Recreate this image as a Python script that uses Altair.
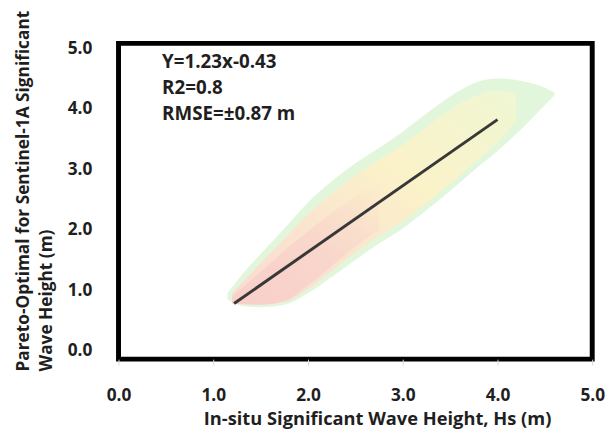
import altair as alt
import pandas as pd

# ---- data ----
# outer envelope of the point cloud
cloud_x = [1.15, 1.3, 1.5, 1.75, 2.0, 2.25, 2.5, 2.75, 3.0, 3.25, 3.5, 3.75, 4.0, 4.25, 4.45, 4.6]
cloud_upper = [0.95, 1.25, 1.6, 2.02, 2.45, 2.8, 3.1, 3.35, 3.62, 3.92, 4.2, 4.42, 4.5, 4.46, 4.38, 4.27]
cloud_lower = [0.85, 0.74, 0.72, 0.76, 0.95, 1.22, 1.5, 1.77, 2.02, 2.32, 2.64, 2.98, 3.3, 3.66, 3.98, 4.22]

# denser core of the cloud
core_x = [1.2, 1.5, 1.75, 2.0, 2.25, 2.5, 2.75, 3.0, 3.25, 3.5, 3.75, 4.0, 4.2]
core_upper = [0.95, 1.45, 1.85, 2.25, 2.6, 2.9, 3.15, 3.4, 3.7, 3.98, 4.2, 4.3, 4.25]
core_lower = [0.78, 0.76, 0.8, 1.02, 1.32, 1.62, 1.9, 2.14, 2.44, 2.76, 3.1, 3.45, 3.8]

# densest part (pink)
dense_x = [1.2, 1.5, 1.75, 2.0, 2.25, 2.5, 2.75]
dense_upper = [0.9, 1.3, 1.65, 1.97, 2.28, 2.55, 2.8]
dense_lower = [0.78, 0.76, 0.82, 1.08, 1.4, 1.72, 2.0]

# fitted line end points
fit_x = [1.22, 4.0]
fit_y = [0.78, 3.82]

stats_text = ["Y=1.23x-0.43", "R2=0.8", "RMSE=\u00b10.87 m"]

x_ticks = [0.0, 1.0, 2.0, 3.0, 4.0, 5.0]
y_ticks = [0.0, 1.0, 2.0, 3.0, 4.0, 5.0]

x_title = "In-situ Significant Wave Height, Hs (m)"
y_title = ["Pareto-Optimal for Sentinel-1A Significant", "Wave Height (m)"]

FONT = "Open Sans"
FW = "bold"
TXT = "#1f1f1f"

xscale = alt.Scale(domain=[0, 5], nice=False, zero=False)
yscale = alt.Scale(domain=[-0.14, 5.08], nice=False, zero=False)

xaxis = alt.Axis(values=x_ticks, format=".1f", grid=False, domain=False,
                 ticks=True, tickSize=6, tickColor="#d9d9d9", tickWidth=1,
                 labelFlush=False, labelOverlap=False,
                 labelPadding=22, labelFont=FONT, labelFontSize=17.5,
                 labelFontWeight=FW, labelColor=TXT,
                 titleFont=FONT, titleFontSize=18.5, titleFontWeight=FW,
                 titleColor=TXT, titlePadding=6, titleX=262)
yaxis = alt.Axis(values=y_ticks, format=".1f", grid=False, domain=False,
                 ticks=False, labelFlush=False, labelOverlap=False,
                 labelPadding=27, labelFont=FONT, labelFontSize=17.5,
                 labelFontWeight=FW, labelColor=TXT,
                 titleFont=FONT, titleFontSize=17.5, titleFontWeight=FW,
                 titleColor=TXT, titleAngle=270, titleAlign="left",
                 titleBaseline="alphabetic", titleLineHeight=23,
                 titleX=-91, titleY=332)

def X():
    return alt.X("x:Q", scale=xscale, axis=xaxis, title=x_title)

def Y(field):
    return alt.Y(field, scale=yscale, axis=yaxis, title=y_title)

outer_df = pd.DataFrame({"x": cloud_x, "hi": cloud_upper, "lo": cloud_lower})
core_df = pd.DataFrame({"x": core_x, "hi": core_upper, "lo": core_lower})
dense_df = pd.DataFrame({"x": dense_x, "hi": dense_upper, "lo": dense_lower})
fit_df = pd.DataFrame({"x": fit_x, "y": fit_y})

outer = alt.Chart(outer_df).mark_area(color="#e2f6dc", interpolate="monotone").encode(
    x=X(), y=Y("hi:Q"), y2="lo:Q")

core_grad = alt.LinearGradient(
    gradient="linear",
    stops=[alt.GradientStop(color="#f9dcd4", offset=0),
           alt.GradientStop(color="#fae4cf", offset=0.3),
           alt.GradientStop(color="#fbf2c9", offset=0.6),
           alt.GradientStop(color="#eff7d3", offset=1)],
    x1=0, x2=1, y1=1, y2=0)

core = alt.Chart(core_df).mark_area(color=core_grad, interpolate="monotone").encode(
    x=X(), y=Y("hi:Q"), y2="lo:Q")

dense_grad = alt.LinearGradient(
    gradient="linear",
    stops=[alt.GradientStop(color="rgba(248,205,200,0.85)", offset=0),
           alt.GradientStop(color="rgba(248,205,200,0.6)", offset=0.5),
           alt.GradientStop(color="rgba(248,205,200,0)", offset=1)],
    x1=0, x2=1, y1=1, y2=0)

dense = alt.Chart(dense_df).mark_area(color=dense_grad, interpolate="monotone").encode(
    x=X(), y=Y("hi:Q"), y2="lo:Q")

fit = alt.Chart(fit_df).mark_line(color="#383838", strokeWidth=3).encode(
    x=X(), y=Y("y:Q"))

stats = alt.Chart(pd.DataFrame({"t": ["\n".join(stats_text)]})).mark_text(
    align="left", baseline="alphabetic", lineBreak="\n", lineHeight=26.5,
    font=FONT, fontSize=19, fontWeight=FW, color=TXT
).encode(x=alt.datum(0.46, scale=xscale), y=alt.datum(4.67, scale=yscale), text="t:N")

chart = alt.layer(outer, core, dense, fit, stats).properties(
    width=480, height=320,
    padding={"left": 112, "top": 33, "right": 16, "bottom": 73},
    autosize=alt.AutoSizeParams(type="none"),
    background="white",
).configure_view(stroke="black", strokeWidth=5)

chart.save("out.html", embed_options={"renderer": "svg", "actions": False})
